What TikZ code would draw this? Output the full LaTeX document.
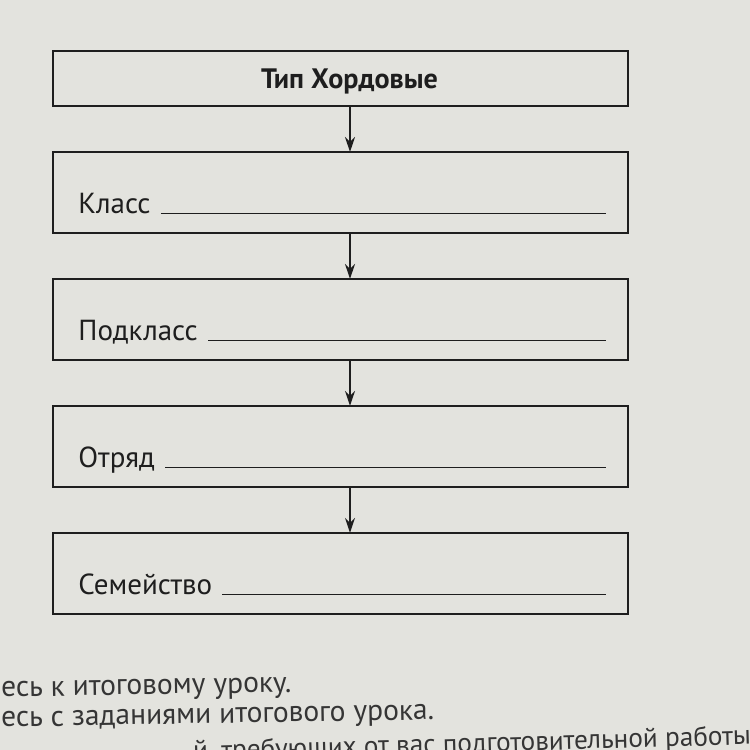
\documentclass[tikz,border=0pt]{standalone}
\usepackage{fontspec}
\setmainfont{PT Sans}
\usetikzlibrary{positioning,arrows.meta}
\definecolor{paper}{RGB}{227,227,222}
\definecolor{ink}{RGB}{30,30,30}
\begin{document}
\begin{tikzpicture}[x=0.02cm, y=0.02cm, node distance=0.92cm,
  box/.style={draw=ink, line width=1.1pt, minimum width=11.5cm, minimum height=1.62cm, inner sep=0, outer sep=0},
  title/.style={font=\fontsize{16}{19}\selectfont\bfseries, text=ink},
  lbl/.style={anchor=base west, inner sep=0, font=\fontsize{16.5}{20}\selectfont, text=ink},
  blank/.style={draw=ink, line width=0.9pt},
  arr/.style={draw=ink, line width=0.9pt, -{Stealth[length=0.3cm, width=0.2cm]}},
  page/.style={anchor=base west, inner sep=0, font=\fontsize{16.8}{20}\selectfont, text=ink!90}]
  \useasboundingbox (0,0) rectangle (750,750);
  \clip (0,0) rectangle (750,750);
  % paper
  \fill[paper] (0,0) rectangle (750,750);
  % draw the boxes of the scheme
  \node[box, minimum height=1.1cm] (tip) at (340.5,671.5) {};
  \node[box, below=of tip] (klass) {};
  \node[box, below=of klass] (podklass) {};
  \node[box, below=of podklass] (otryad) {};
  \node[box, below=of otryad] (semeystvo) {};
  \node[title] (tip-lbl) at ([xshift=0.18cm, yshift=-0.06cm]tip.center) {Тип Хордовые};
  % labels with blank lines to fill in
  \foreach \b/\t in {klass/Класс, podklass/Подкласс, otryad/Отряд, semeystvo/Семейство} {
    \node[lbl] (\b-lbl) at ([xshift=0.5cm, yshift=0.39cm]\b.south west) {\t};
    \coordinate (\b-end) at ([xshift=-0.44cm, yshift=0.39cm]\b.south east);
    \draw[blank] ([xshift=0.2cm]\b-lbl.base east) -- (\b-end);
  }
  % draw arrows between the boxes
  \foreach \a/\b in {tip/klass, klass/podklass, podklass/otryad, otryad/semeystvo}
    \draw[arr] ([xshift=0.19cm]\a.south) -- ([xshift=0.19cm]\b.north);
  % text of the page below the scheme
  \node[page, rotate=1] (line1) at (1,53) {есь к итоговому уроку.};
  \node[page, rotate=1] (line2) at (1,23) {есь с заданиями итогового урока.};
  \node[page, rotate=1.6, font=\fontsize{15.5}{18}\selectfont] (line3) at (193,-10) {й, требующих от вас подготовительной работы};
\end{tikzpicture}
\end{document}
